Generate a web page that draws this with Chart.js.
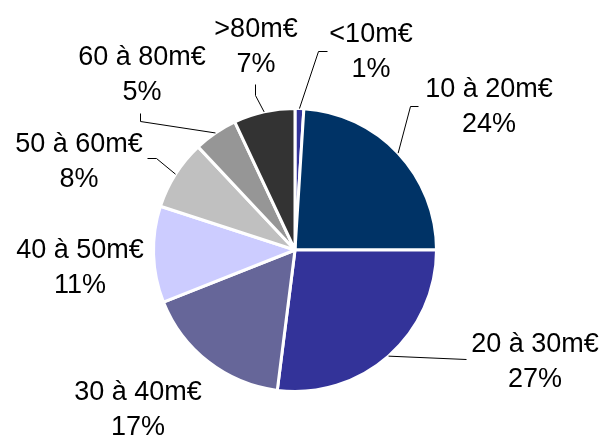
<!DOCTYPE html>
<html>
<head>
<meta charset="utf-8">
<script src="https://cdn.jsdelivr.net/npm/chart.js@4/dist/chart.umd.min.js"></script>
<style>
  html, body { margin: 0; padding: 0; background: #fff; }
  #wrap { width: 603px; height: 439px; }
</style>
</head>
<body>
<div id="wrap"><canvas id="c" width="603" height="439"></canvas></div>
<script>
// Tranches de montant (m€) et répartition en %
const categories = ['<10m€', '10 à 20m€', '20 à 30m€', '30 à 40m€', '40 à 50m€', '50 à 60m€', '60 à 80m€', '>80m€'];
const shares = [1, 24, 27, 17, 11, 8, 5, 7];
const sliceColors = ['#333399', '#003366', '#333399', '#666699', '#CCCCFF', '#C0C0C0', '#969696', '#333333'];

// Label placement: text centre x, baseline of first line, optional leader path
const labelLayout = [
  { x: 371, y: 42, leader: [[318, 51], [327, 51]] },
  { x: 489, y: 97, leader: [[410, 106], [418, 106]] },
  { x: 535, y: 352, leader: [[466, 359]] },
  { x: 138, y: 400, leader: null },
  { x: 80, y: 258, leader: null },
  { x: 79, y: 152, leader: [[156, 158], [147, 158]] },
  { x: 142, y: 65, leader: [[140, 121], [140, 113]] },
  { x: 256, y: 37, leader: [[255, 95], [255, 84]] }
];

const outsideLabels = {
  id: 'outsideLabels',
  afterDatasetsDraw(chart) {
    const ctx = chart.ctx;
    const meta = chart.getDatasetMeta(0);
    ctx.save();
    meta.data.forEach((arc, i) => {
      const lay = labelLayout[i];
      const p = arc.getProps(['x', 'y', 'startAngle', 'endAngle', 'outerRadius'], true);
      const mid = (p.startAngle + p.endAngle) / 2;
      if (lay.leader) {
        const sx = p.x + Math.cos(mid) * p.outerRadius;
        const sy = p.y + Math.sin(mid) * p.outerRadius;
        ctx.beginPath();
        ctx.strokeStyle = '#000';
        ctx.lineWidth = 1;
        ctx.moveTo(sx, sy);
        lay.leader.forEach(pt => ctx.lineTo(pt[0] + 0.5, pt[1] + 0.5));
        ctx.stroke();
      }
      ctx.fillStyle = '#000';
      ctx.font = '27px "Liberation Sans", Arial, sans-serif';
      ctx.textAlign = 'center';
      ctx.textBaseline = 'alphabetic';
      ctx.fillText(chart.data.labels[i], lay.x, lay.y);
      ctx.fillText(chart.data.datasets[0].data[i] + '%', lay.x, lay.y + 35);
    });
    ctx.restore();
  }
};

new Chart(document.getElementById('c'), {
  type: 'pie',
  data: {
    labels: categories,
    datasets: [{
      data: shares,
      backgroundColor: sliceColors,
      borderColor: '#ffffff',
      borderWidth: 3
    }]
  },
  options: {
    responsive: false,
    animation: false,
    layout: { padding: { left: 152, top: 107, right: 165, bottom: 46 } },
    plugins: {
      legend: { display: false },
      tooltip: { enabled: false }
    }
  },
  plugins: [outsideLabels]
});
</script>
</body>
</html>
